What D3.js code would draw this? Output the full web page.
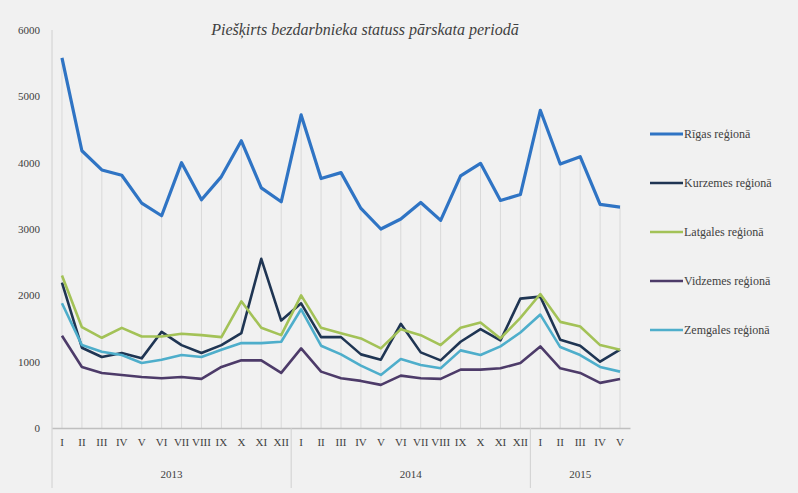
<!DOCTYPE html>
<meta charset="utf-8">
<style>
body { margin: 0; background: #f1f1f1; }
svg { display: block; }
.tick text { font-family: "Liberation Serif", serif; fill: #404040; }
</style>
<body>
<svg></svg>
<script src="https://d3js.org/d3.v7.min.js"></script>
<script>

var months = ["I","II","III","IV","V","VI","VII","VIII","IX","X","XI","XII",
              "I","II","III","IV","V","VI","VII","VIII","IX","X","XI","XII",
              "I","II","III","IV","V"];
var years = ["2013", "2014", "2015"];
var yearLengths = [12, 12, 5];
var yTicks = [0, 1000, 2000, 3000, 4000, 5000, 6000];

var regions = ["Rīgas reģionā", "Kurzemes reģionā", "Latgales reģionā", "Vidzemes reģionā", "Zemgales reģionā"];

var riga = [5580, 4180, 3890, 3810, 3390, 3200, 4000, 3440, 3790, 4330, 3620, 3410,
            4720, 3760, 3850, 3310, 3000, 3150, 3400, 3130, 3800, 3990, 3430, 3520,
            4790, 3980, 4090, 3370, 3330];
var kurzeme = [2190, 1210, 1070, 1130, 1050, 1450, 1250, 1130, 1250, 1430, 2550, 1620,
               1880, 1370, 1370, 1110, 1030, 1570, 1140, 1020, 1300, 1490, 1320, 1950,
               1980, 1330, 1240, 1000, 1180];
var latgale = [2300, 1520, 1360, 1510, 1380, 1380, 1420, 1400, 1370, 1910, 1510, 1400,
               2000, 1510, 1430, 1350, 1200, 1490, 1400, 1250, 1510, 1590, 1350, 1660,
               2020, 1600, 1530, 1250, 1180];
var vidzeme = [1390, 920, 830, 800, 770, 750, 770, 740, 920, 1020, 1020, 830,
               1200, 850, 750, 710, 650, 790, 750, 740, 880, 880, 900, 980,
               1230, 900, 830, 680, 740];
var zemgale = [1880, 1250, 1150, 1100, 980, 1030, 1100, 1070, 1180, 1280, 1280, 1300,
               1790, 1240, 1110, 940, 800, 1040, 950, 900, 1170, 1100, 1230, 1440,
               1710, 1220, 1100, 920, 850];

var series = [riga, kurzeme, latgale, vidzeme, zemgale];
var colors = ["#2f74c4", "#1f3553", "#a3c257", "#4d3b69", "#4eaecb"];
var widths = [3.2, 2.6, 2.6, 2.6, 2.6];

var width = 798, height = 493;
var margin = {top: 30, right: 168, bottom: 65, left: 52};

var svg = d3.select("svg")
    .attr("width", width)
    .attr("height", height);

svg.append("rect")
    .attr("width", width)
    .attr("height", height)
    .attr("fill", "#f1f1f1");

var x = d3.scaleBand()
    .domain(d3.range(months.length))
    .range([margin.left, width - margin.right]);

var y = d3.scaleLinear()
    .domain([0, 6000])
    .range([height - margin.bottom, margin.top]);

function cx(i) { return x(i) + x.bandwidth() / 2; }

// title
svg.append("text")
    .attr("x", 365)
    .attr("y", 35)
    .attr("text-anchor", "middle")
    .style("font-family", "Liberation Serif, serif")
    .style("font-style", "italic")
    .style("font-size", "16px")
    .style("fill", "#404040")
    .text("Piešķirts bezdarbnieka statuss pārskata periodā");

// drop lines from the top value down to the axis
var tops = months.map(function(m, i) {
  return d3.max(series, function(s) { return s[i]; });
});
svg.append("g").selectAll("line")
    .data(tops)
    .enter().append("line")
    .attr("x1", function(d, i) { return cx(i); })
    .attr("x2", function(d, i) { return cx(i); })
    .attr("y1", function(d) { return y(d); })
    .attr("y2", y(0))
    .attr("stroke", "#d9d9d9")
    .attr("stroke-width", 1);

// y axis
var yAxis = d3.axisLeft(y).tickValues(yTicks).tickFormat(d3.format("d")).tickSize(0).tickPadding(12);
var gy = svg.append("g")
    .attr("transform", "translate(" + margin.left + ",0)")
    .call(yAxis);
gy.select(".domain").remove();
gy.selectAll("text").style("font-size", "11px");

svg.append("line")
    .attr("x1", margin.left).attr("x2", margin.left)
    .attr("y1", margin.top).attr("y2", height - 5)
    .attr("stroke", "#d0d0d0");

// x axis (months)
var xAxis = d3.axisBottom(x).tickFormat(function(i) { return months[i]; }).tickSize(0).tickPadding(10);
var gx = svg.append("g")
    .attr("transform", "translate(0," + y(0) + ")")
    .call(xAxis);
gx.select(".domain").attr("stroke", "#bfbfbf").attr("stroke-width", 1.5);
gx.selectAll("text").style("font-size", "11px");

// year groups
var start = 0;
years.forEach(function(yr, k) {
  var end = start + yearLengths[k];
  var x0 = x(start), x1 = x(end - 1) + x.bandwidth();
  if (k > 0) {
    svg.append("line")
        .attr("x1", x0).attr("x2", x0)
        .attr("y1", y(0)).attr("y2", height - 5)
        .attr("stroke", "#d0d0d0");
  }
  svg.append("text")
      .attr("x", (x0 + x1) / 2)
      .attr("y", 478)
      .attr("text-anchor", "middle")
      .style("font-family", "Liberation Serif, serif")
      .style("font-size", "11px")
      .style("fill", "#404040")
      .text(yr);
  start = end;
});

// lines
var line = d3.line()
    .x(function(d, i) { return cx(i); })
    .y(function(d) { return y(d); });

svg.append("g").selectAll("path")
    .data(series)
    .enter().append("path")
    .attr("d", line)
    .attr("fill", "none")
    .attr("stroke", function(d, i) { return colors[i]; })
    .attr("stroke-width", function(d, i) { return widths[i]; })
    .attr("stroke-linejoin", "round");

// legend
var legend = svg.append("g").selectAll("g")
    .data(regions)
    .enter().append("g")
    .attr("transform", function(d, i) { return "translate(650," + (134 + i * 49) + ")"; });

legend.append("line")
    .attr("x1", 0).attr("x2", 33)
    .attr("stroke", function(d, i) { return colors[i]; })
    .attr("stroke-width", function(d, i) { return widths[i]; });

legend.append("text")
    .attr("x", 34)
    .attr("dy", "0.35em")
    .style("font-family", "Liberation Serif, serif")
    .style("font-size", "12px")
    .style("fill", "#404040")
    .text(function(d) { return d; });

</script>
</body>
